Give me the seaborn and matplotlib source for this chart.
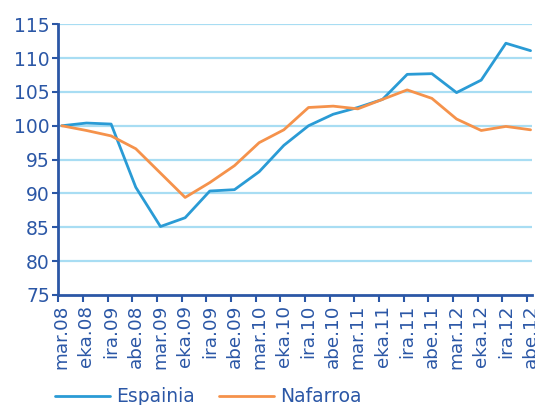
import numpy as np
import pandas as pd
import seaborn as sns
import matplotlib
matplotlib.use("Agg")
import matplotlib.pyplot as plt

months = ["mar.08", "eka.08", "ira.09", "abe.08", "mar.09", "eka.09", "ira.09", "abe.09",
          "mar.10", "eka.10", "ira.10", "abe.10", "mar.11", "eka.11", "ira.11", "abe.11",
          "mar.12", "eka.12", "ira.12", "abe.12"]
espainia = [100.0, 100.4, 100.25, 90.9, 85.1, 86.4, 90.35, 90.55, 93.2, 97.1,
            100.0, 101.7, 102.7, 103.9, 107.6, 107.7, 104.9, 106.75, 112.2, 111.1]
nafarroa = [100.0, 99.3, 98.5, 96.6, 93.0, 89.4, 91.6, 94.1, 97.5, 99.4,
            102.7, 102.9, 102.5, 103.9, 105.3, 104.05, 101.0, 99.3, 99.9, 99.4]

text_col = "#2b57a6"
df = pd.DataFrame({"pos": list(range(len(months))) * 2,
                   "value": espainia + nafarroa,
                   "serie": ["Espainia"] * len(months) + ["Nafarroa"] * len(months)})

sns.set_style("white")
plt.rcParams["font.family"] = ["DejaVu Sans"]

fig = plt.figure(figsize=(5.35, 4.05), dpi=100)
ax = fig.add_axes([0.109, 0.272, 0.885, 0.668])

sns.lineplot(data=df, x="pos", y="value", hue="serie",
             palette={"Espainia": "#2a9bd5", "Nafarroa": "#f5924b"},
             linewidth=2, ax=ax, legend=False)

# horizontal grid
for v in range(80, 116, 5):
    ax.axhline(v, color="#a8ddf3", linewidth=1.6, zorder=0)

ax.set_ylim(75, 115)
ax.set_xlim(-0.14, 19.05)
ax.set_yticks(range(75, 116, 5))
ax.set_xticks(range(len(months)))
ax.set_xticklabels(months, rotation=90)
ax.set_xticks(np.arange(len(months)) - 0.14, minor=True)
ax.tick_params(axis="x", which="major", length=0, pad=7, labelsize=13.2, labelcolor=text_col)
ax.tick_params(axis="x", which="minor", length=5, width=1.5, color=text_col, bottom=True)
ax.tick_params(axis="y", length=4, width=1.5, pad=2, color=text_col, labelsize=13.5,
               labelcolor=text_col, left=True)
ax.set_xlabel("")
ax.set_ylabel("")
for s in ["top", "right"]:
    ax.spines[s].set_visible(False)
for s in ["left", "bottom"]:
    ax.spines[s].set_color(text_col)
    ax.spines[s].set_linewidth(2)

handles = [plt.Line2D([], [], color="#2a9bd5", linewidth=2),
           plt.Line2D([], [], color="#f5924b", linewidth=2)]
fig.legend(handles, ["Espainia", "Nafarroa"], loc="lower left", bbox_to_anchor=(0.072, -0.045),
           ncol=2, frameon=False, handlelength=2.9, handletextpad=0.35, columnspacing=1.3,
           prop={"size": 13.5}, labelcolor=text_col)

fig.savefig("out.png", dpi=100)
